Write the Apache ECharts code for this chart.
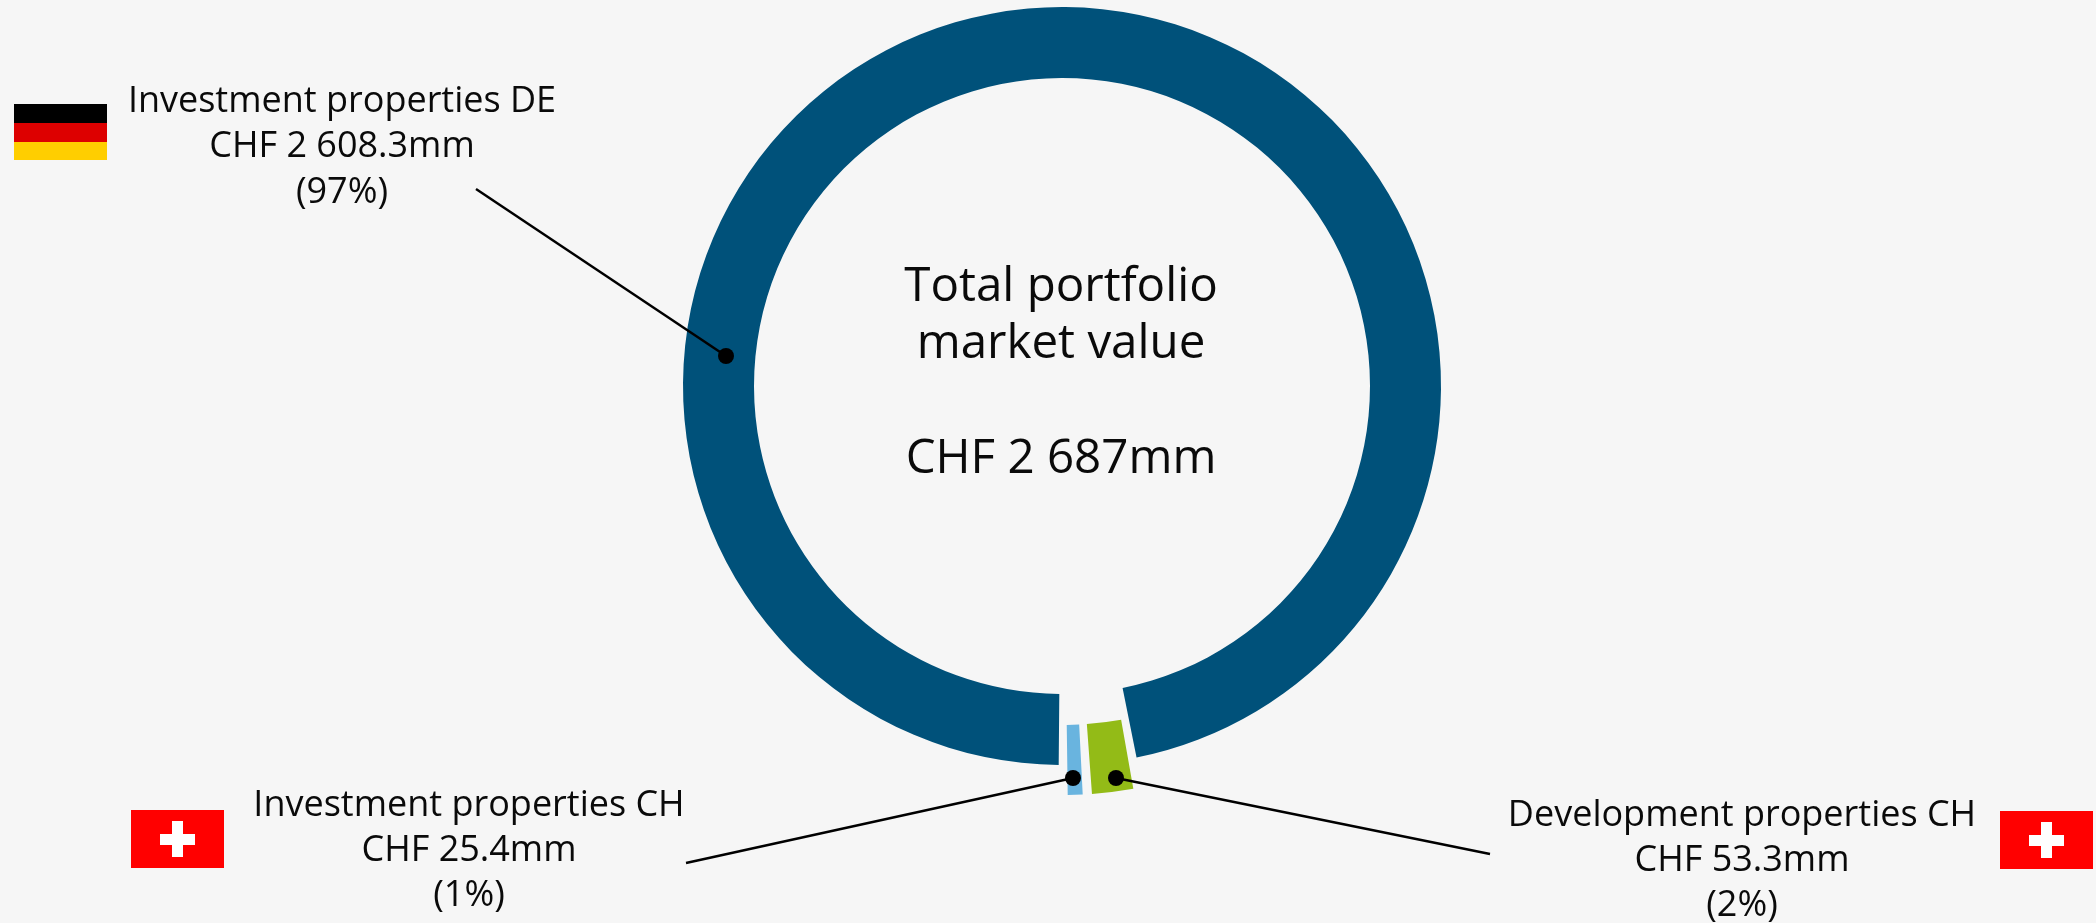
<!DOCTYPE html>
<html>
<head>
<meta charset="utf-8">
<title>Total portfolio market value</title>
<style>
  html, body { margin: 0; padding: 0; background: #f6f6f6; }
  #chart { width: 2096px; height: 923px; }
</style>
<script src="https://cdn.jsdelivr.net/npm/echarts@6/dist/echarts.min.js"></script>
</head>
<body>
<div id="chart"></div>
<script>
// Portfolio segments, CHF mm
const segmentNames = ['Investment properties DE', 'Development properties CH', 'Investment properties CH'];
const segmentValues = [2608.3, 53.3, 25.4];
const segmentColors = ['#00517a', '#93bb17', '#69b4df'];

// Caption texts
const centreLines = ['Total portfolio', 'market value', 'CHF 2 687mm'];
const amountLines = ['CHF 2 608.3mm', 'CHF 53.3mm', 'CHF 25.4mm'];
const shareLines = ['(97%)', '(2%)', '(1%)'];

const FONT = '"Open Sans", sans-serif';
const INK = '#0a0a0a';
const CENTRE = [1062, 386];

// Caption placement: centre x and the y of its three lines
const captionX = [342, 1742, 469];
const captionY = [[102, 147, 193], [816, 861, 906], [806, 851, 896]];
// Leader lines: outer end, then the dot on the segment
const leaders = [
  [[476, 189], [726, 356]],
  [[1490, 854], [1116, 778]],
  [[686, 863], [1073, 778]]
];

function text(str, x, y, size) {
  return {
    type: 'text', z: 20, silent: true,
    style: { text: str, x: x, y: y, fill: INK, font: size + 'px ' + FONT, align: 'center', verticalAlign: 'middle' }
  };
}
function rect(x, y, w, h, fill) {
  return { type: 'rect', z: 20, silent: true, shape: { x: x, y: y, width: w, height: h }, style: { fill: fill } };
}
function swissFlag(x, y) {
  return [
    rect(x, y, 93, 58, '#ff0000'),
    rect(x + 29, y + 24, 35, 11, '#ffffff'),
    rect(x + 41, y + 11, 11, 36, '#ffffff')
  ];
}

const graphics = [];
centreLines.forEach(function (line, i) {
  graphics.push(text(line, 1061, [287, 344, 459][i], 47.5));
});
segmentNames.forEach(function (name, i) {
  graphics.push(text(name, captionX[i], captionY[i][0], 36));
  graphics.push(text(amountLines[i], captionX[i], captionY[i][1], 36));
  graphics.push(text(shareLines[i], captionX[i], captionY[i][2], 36));
  const [from, to] = leaders[i];
  graphics.push({
    type: 'line', z: 21, silent: true,
    shape: { x1: from[0], y1: from[1], x2: to[0], y2: to[1] },
    style: { stroke: '#000', lineWidth: 2.5 }
  });
  graphics.push({
    type: 'circle', z: 22, silent: true,
    shape: { cx: to[0], cy: to[1], r: 8 }, style: { fill: '#000' }
  });
});
// German flag
graphics.push(rect(14, 104, 93, 19, '#000000'), rect(14, 123, 93, 19, '#dd0000'), rect(14, 142, 93, 18, '#ffce00'));
graphics.push.apply(graphics, swissFlag(131, 810));
graphics.push.apply(graphics, swissFlag(2000, 811));

// Same slice layout on two rings: the large segment sits on the inner ring,
// the two Swiss segments are pushed out on the outer one.
function ring(radius, visible) {
  return {
    type: 'pie',
    center: CENTRE,
    radius: radius,
    startAngle: 270.15,
    padAngle: 1.3,
    silent: true,
    animation: false,
    label: { show: false },
    labelLine: { show: false },
    emphasis: { disabled: true },
    data: segmentNames.map(function (name, i) {
      return {
        name: name,
        value: segmentValues[i],
        itemStyle: { color: visible(i) ? segmentColors[i] : 'transparent' }
      };
    })
  };
}

const chart = echarts.init(document.getElementById('chart'), null, { renderer: 'canvas' });
chart.setOption({
  backgroundColor: '#f6f6f6',
  animation: false,
  series: [
    ring([308, 379], function (i) { return i === 0; }),
    ring([339, 409], function (i) { return i !== 0; })
  ],
  graphic: graphics
});
</script>
</body>
</html>
